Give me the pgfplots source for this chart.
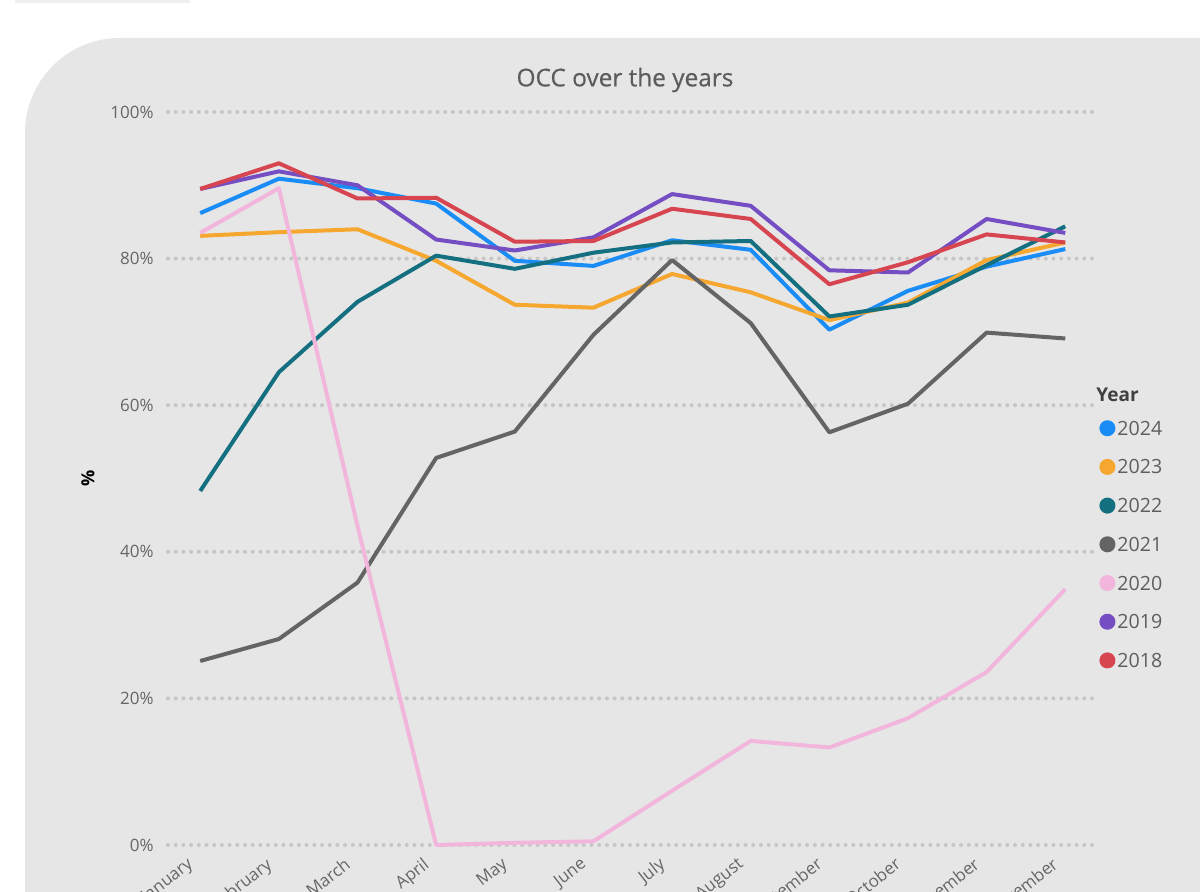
\documentclass[border=0pt]{standalone}
\usepackage{pgfplots}
\pgfplotsset{compat=1.18}
\usepackage{fontspec}
\setmainfont{Open Sans}
\newfontfamily\titlefont{Open Sans}[FakeBold=0.5]
\definecolor{bgc}{HTML}{E6E6E6}
\definecolor{topc}{HTML}{EFEFEF}
\definecolor{yearc}{HTML}{404040}
\definecolor{gridc}{HTML}{C6C6C6}
\definecolor{tickc}{HTML}{666666}
\definecolor{titlec}{HTML}{5C5C5C}
\definecolor{legc}{HTML}{5E5E5E}
\definecolor{c2024}{HTML}{1A8CF5}
\definecolor{c2023}{HTML}{F6A72F}
\definecolor{c2022}{HTML}{147080}
\definecolor{c2021}{HTML}{646464}
\definecolor{c2020}{HTML}{F2B6DC}
\definecolor{c2019}{HTML}{744EC2}
\definecolor{c2018}{HTML}{D64550}
\begin{document}
\begin{tikzpicture}
\useasboundingbox (0,0) rectangle (600pt,446pt);
\clip (0,0) rectangle (600pt,446pt);
\fill[white] (0,0) rectangle (600pt,446pt);
\fill[topc] (7.5pt,444.5pt) rectangle (95pt,446pt);
\fill[bgc] (12.5pt,0) -- (12.5pt,379.5pt) arc[start angle=180,end angle=90,radius=47.5pt] -- (600pt,427pt) -- (600pt,0) -- cycle;
\begin{axis}[
  at={(84pt,23.5pt)}, anchor=south west,
  scale only axis, width=462pt, height=366.5pt,
  xmin=-0.41, xmax=11.34, ymin=0, ymax=100,
  clip=false,
  axis line style={draw=none},
  tick style={draw=none}, major tick length=0pt,
  ytick={0,20,40,60,80,100},
  yticklabels={0\%,20\%,40\%,60\%,80\%,100\%},
  xtick={0,...,11},
  xticklabels={January,February,March,April,May,June,July,August,September,October,November,December},
  ymajorgrids,
  major grid style={gridc, line width=2pt, dash pattern=on 0pt off 3.85pt, line cap=round},
  yticklabel style={font=\fontsize{8.5}{10}\selectfont, text=tickc, inner sep=0pt, xshift=-7pt},
  xticklabel style={font=\fontsize{8.5}{10}\selectfont, text=tickc, anchor=north east, inner sep=0pt, xshift=-7pt, yshift=-5.5pt, rotate=38},
  ylabel={\%},
  ylabel style={at={(axis description cs:-0.0866,0.5)}, anchor=center, font=\bfseries\fontsize{9}{10}\selectfont, text=black},
  legend style={at={(axis description cs:1.0011,0.5855)}, anchor=north west, draw=none, fill=none,
    font=\fontsize{9.8}{11}\selectfont, text=legc, row sep=11.35pt, column sep=1pt,
    nodes={inner sep=0pt, text height=7pt, text depth=0pt}},
  legend cell align=left,
  legend image code/.code={\fill[#1] (3pt,0pt) circle (3pt);},
  every axis plot/.append style={line width=2pt, line join=round, no markers},
]
\addplot[color=c2024] coordinates {(0,86.2) (1,90.9) (2,89.6) (3,87.5) (4,79.7) (5,79.0) (6,82.5) (7,81.2) (8,70.3) (9,75.6) (10,78.9) (11,81.3)};
\addlegendentry{2024}
\addplot[color=c2023] coordinates {(0,83.1) (1,83.6) (2,84.0) (3,79.7) (4,73.7) (5,73.3) (6,77.9) (7,75.4) (8,71.6) (9,74.0) (10,79.8) (11,82.2)};
\addlegendentry{2023}
\addplot[color=c2022] coordinates {(0,48.3) (1,64.5) (2,74.1) (3,80.4) (4,78.6) (5,80.8) (6,82.2) (7,82.4) (8,72.1) (9,73.7) (10,79.1) (11,84.4)};
\addlegendentry{2022}
\addplot[color=c2021] coordinates {(0,25.1) (1,28.1) (2,35.8) (3,52.8) (4,56.4) (5,69.6) (6,79.8) (7,71.2) (8,56.3) (9,60.2) (10,69.9) (11,69.1)};
\addlegendentry{2021}
\addplot[color=c2020] coordinates {(0,83.5) (1,89.6) (2,43.5) (3,0.0) (4,0.3) (5,0.5) (6,7.4) (7,14.2) (8,13.3) (9,17.3) (10,23.6) (11,34.9)};
\addlegendentry{2020}
\addplot[color=c2019] coordinates {(0,89.5) (1,91.9) (2,90.0) (3,82.6) (4,81.1) (5,82.9) (6,88.8) (7,87.2) (8,78.4) (9,78.1) (10,85.4) (11,83.5)};
\addlegendentry{2019}
\addplot[color=c2018] coordinates {(0,89.5) (1,93.0) (2,88.2) (3,88.3) (4,82.3) (5,82.4) (6,86.8) (7,85.4) (8,76.5) (9,79.5) (10,83.3) (11,82.2)};
\addlegendentry{2018}
\end{axis}
\node[font=\titlefont\fontsize{12.2}{14}\selectfont, text=titlec] at (312.5pt,406pt) {OCC over the years};
\node[font=\bfseries\fontsize{9.5}{11}\selectfont, text=yearc, anchor=west, inner sep=0pt] at (548pt,248.5pt) {Year};
\end{tikzpicture}
\end{document}
